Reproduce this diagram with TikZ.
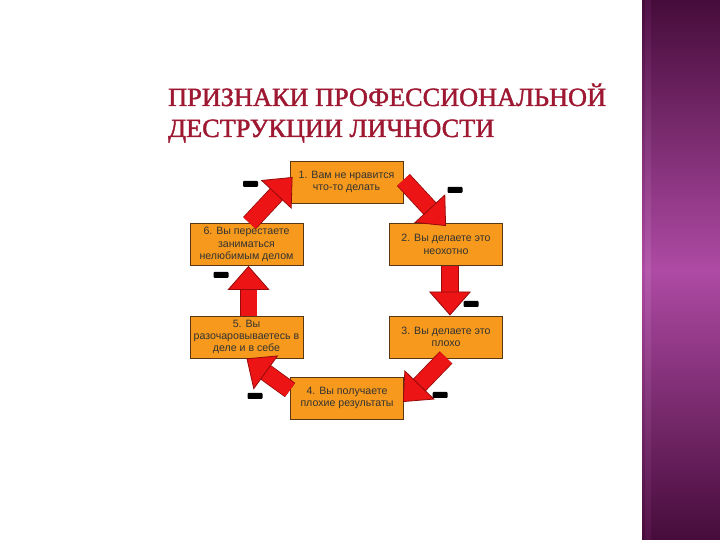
\documentclass[tikz,border=0pt]{standalone}
\usepackage{fontspec}
\setmainfont{Liberation Serif}
\newfontfamily\boxfont{Liberation Sans}
\newfontfamily\headfont[FakeBold=1.6]{Liberation Serif}
\usetikzlibrary{arrows.meta,positioning}
\definecolor{titlered}{RGB}{158,24,50}
\definecolor{boxorange}{RGB}{246,153,28}
\definecolor{boxline}{RGB}{90,55,20}
\definecolor{arrowred}{RGB}{236,20,20}
\definecolor{arrowrim}{RGB}{150,10,10}
\definecolor{banddark}{RGB}{70,12,58}
\definecolor{bandmid}{RGB}{174,74,164}

\begin{document}
\begin{tikzpicture}[x=1pt,y=1pt,
 stepbox/.style={draw=boxline,line width=0.9pt,fill=boxorange,minimum width=113pt,minimum height=42pt,inner sep=1pt,align=center,text=black!80,font=\boxfont\fontsize{10.6}{12.3}\selectfont},
 blockarrow/.style={draw=arrowred,line width=16pt,-{Triangle[length=24pt,width=42pt,line width=0.8pt,color=arrowrim,fill=arrowred]},preaction={draw=arrowrim,line width=17.6pt,-,shorten >=22pt}},
 minusbar/.style={fill=black,minimum width=15pt,minimum height=6pt,inner sep=0pt,rounded corners=1pt},
 heading/.style={anchor=base west,inner sep=0pt,text=titlered,font=\headfont\fontsize{26.3}{31}\selectfont}]
 \useasboundingbox[fill=white] (0,0) rectangle (720,540);
 % side band
 \shade[top color=banddark,bottom color=banddark,middle color=bandmid] (642,0) rectangle (720,540);
 \shade[top color=banddark!80!bandmid,bottom color=banddark!80!bandmid,middle color=bandmid!85!white,opacity=0.6] (645,0) rectangle (651,540);
 % title
 \node[heading] (title1) at (168,434) {ПРИЗНАКИ ПРОФЕССИОНАЛЬНОЙ};
 \node[heading] (title2) at (168,403) {ДЕСТРУКЦИИ ЛИЧНОСТИ};
 % cycle boxes
 \node[stepbox] (b1) at (346.5,358) {1. Вам не нравится\\что-то делать};
 \node[stepbox] (b2) at (446,295.5) {2. Вы делаете это\\неохотно};
 \node[stepbox] (b3) at (446,203) {3. Вы делаете это\\плохо};
 \node[stepbox] (b4) at (347,142) {4. Вы получаете\\плохие результаты};
 \node[stepbox] (b5) at (246.5,203) {5. Вы\\разочаровываетесь в\\деле и в себе};
 \node[stepbox] (b6) at (246.5,295.5) {6. Вы перестаете\\заниматься\\нелюбимым делом};
 % arrows
 \draw[blockarrow] ([xshift=3]b6.north) -- ([shift={(3,5)}]b1.west);
 \draw[blockarrow] ([yshift=2]b1.east) -- ([yshift=-3]b2.north);
 \draw[blockarrow] ([xshift=4]b2.south) -- ([xshift=4]b3.north);
 \draw[blockarrow] ([yshift=1]b3.south) -- ([shift={(-1,-4)}]b4.east);
 \draw[blockarrow] ([yshift=8]b4.west) -- (b5.south);
 \draw[blockarrow] ([xshift=2]b5.north) -- ([xshift=2]b6.south);
 % minus signs
 \node[minusbar] (m1) at (250.5,356) {};
 \node[minusbar] (m2) at (455,350) {};
 \node[minusbar] (m3) at (471,236) {};
 \node[minusbar] (m4) at (440,145) {};
 \node[minusbar] (m5) at (255,144) {};
 \node[minusbar] (m6) at (221,265) {};
\end{tikzpicture}
\end{document}
